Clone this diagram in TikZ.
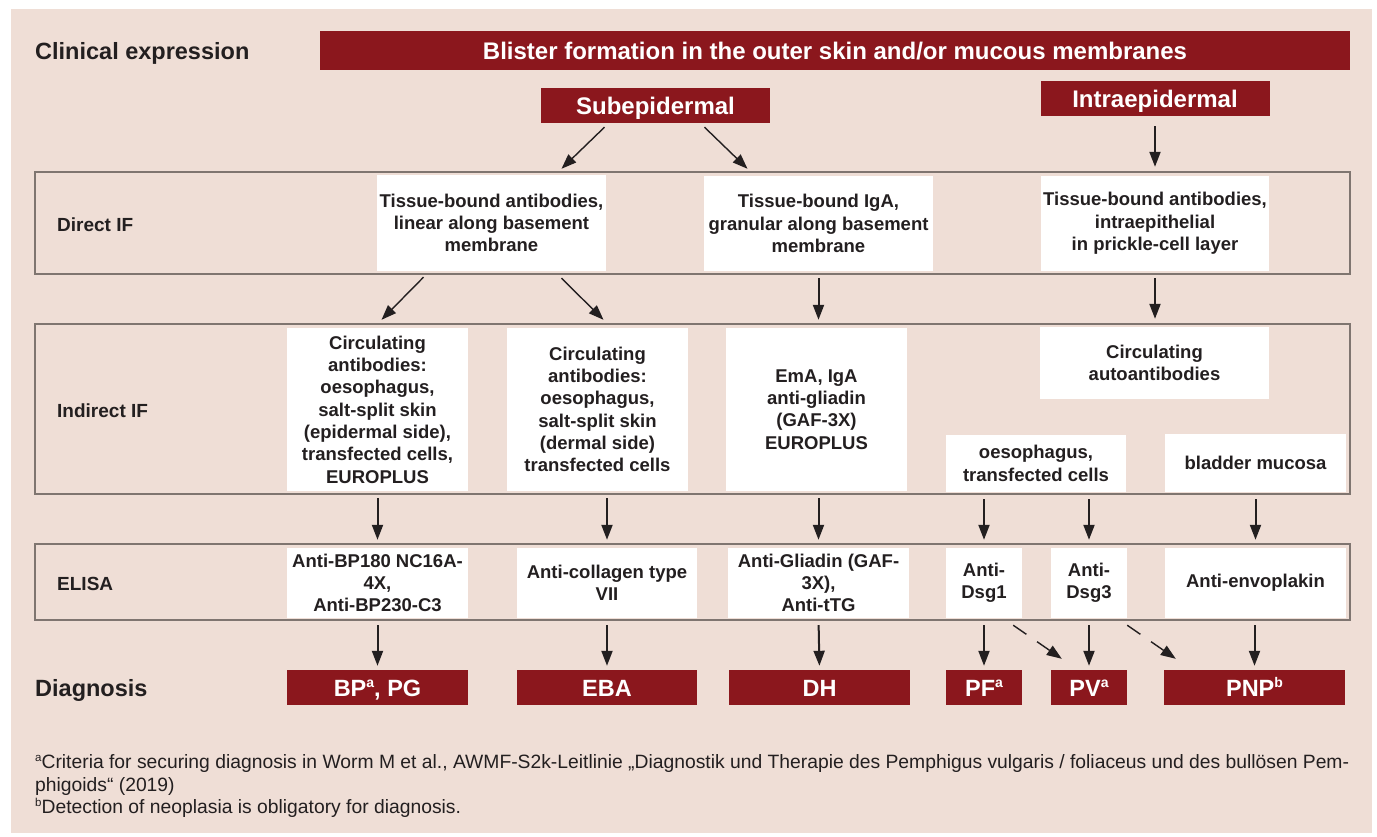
\documentclass[tikz,border=0pt]{standalone}
\usepackage{fontspec}
\setmainfont{Liberation Sans}
\usetikzlibrary{positioning,calc,arrows.meta}

\definecolor{bgpink}{HTML}{EFDED6}
\definecolor{darkred}{HTML}{8B171D}
\definecolor{bandgray}{HTML}{7F7570}
\definecolor{ink}{HTML}{231F20}

\newcommand{\cellfnt}{\fontsize{18.5}{22.3}\selectfont\bfseries}
\newcommand{\labfnt}{\fontsize{19}{22}\selectfont\bfseries}
\newcommand{\titlefnt}{\fontsize{23.5}{26}\selectfont\bfseries}
\newcommand{\headfnt}{\fontsize{24}{26}\selectfont\bfseries}
\newcommand{\diagfnt}{\fontsize{23.5}{26}\selectfont\bfseries}
\newcommand{\notefnt}{\fontsize{19.3}{22}\selectfont}
% small raised index letters
\newcommand{\diagidx}[1]{\raisebox{9pt}{\fontsize{14}{14}\selectfont #1}}
\newcommand{\noteidx}[1]{\raisebox{7pt}{\fontsize{11.5}{12}\selectfont #1}}

\tikzset{
  band/.style={draw=bandgray, line width=1.3pt, minimum width=1315pt, inner sep=0pt},
  cell/.style={fill=white, text=ink, font=\cellfnt, align=center, inner sep=0pt},
  redbox/.style={fill=darkred, text=white, inner sep=0pt, minimum height=35pt,
    text height=17pt, text depth=0pt},
  rowlabel/.style={anchor=base west, text=ink, inner sep=0pt},
  note/.style={anchor=base west, text=ink, font=\notefnt, inner sep=0pt},
  arr/.style={draw=ink, line width=2pt, -{Triangle[length=15pt,width=11pt]}},
  slant arr/.style={draw=ink, line width=1.4pt, -{Triangle[length=15pt,width=11pt]}},
  dash arr/.style={draw=ink, line width=1.4pt, dash pattern=on 16pt off 13pt on 60pt,
    -{Triangle[length=15pt,width=11pt]}},
}

\begin{document}
\begin{tikzpicture}[x=1pt,y=-1pt]
\useasboundingbox (0,0) rectangle (1377,836);
\fill[bgpink] (11,9) rectangle (1372,833);

% bands
\node[band, minimum height=102pt] (bandDir) at (692.5,223) {};
\node[band, minimum height=170pt] (bandInd) at (692.5,409) {};
\node[band, minimum height=76pt]  (bandEli) at (692.5,582) {};

% row labels
\node[rowlabel, font=\titlefnt] (clin) at (35,59) {Clinical expression};
\node[rowlabel, font=\labfnt] (lblDir) at (57,231) {Direct IF};
\node[rowlabel, font=\labfnt] (lblInd) at (57,417) {Indirect IF};
\node[rowlabel, font=\labfnt] (lblEli) at (57,590) {ELISA};
\node[rowlabel, font=\titlefnt] (lblDiag) at (35,696) {Diagnosis};

% clinical expression
\node[redbox, minimum width=1030pt, minimum height=39pt, font=\headfnt] (blister) at (835,50.5)
  {Blister formation in the outer skin and/or mucous membranes};
\node[redbox, minimum width=229pt, font=\headfnt] (sub) at (655.5,105.5) {Subepidermal};
\node[redbox, minimum width=229pt, font=\headfnt] (intra) at (1155,98.5) {Intraepidermal};

% direct IF
\node[cell, minimum width=229pt, minimum height=96pt] (dir1) at (491.5,223)
  {Tissue-bound antibodies,\\linear along basement\\membrane};
\node[cell, minimum width=229pt, minimum height=95pt] (dir2) at (818.5,223.5)
  {Tissue-bound IgA,\\granular along basement\\membrane};
\node[cell, minimum width=228pt, minimum height=95pt] (dir3) at (1155,223.5)
  {Tissue-bound antibodies,\\intraepithelial\\in prickle-cell layer};

% indirect IF
\node[cell, minimum width=181pt, minimum height=163pt] (ind1) at (377.5,409.5)
  {Circulating\\antibodies:\\oesophagus,\\salt-split skin\\(epidermal side),\\transfected cells,\\EUROPLUS};
\node[cell, minimum width=181pt, minimum height=163pt] (ind2) at (597.5,409.5)
  {Circulating\\antibodies:\\oesophagus,\\salt-split skin\\(dermal side)\\transfected cells};
\node[cell, minimum width=181pt, minimum height=163pt] (ind3) at (816.5,409.5)
  {EmA, IgA\\anti-gliadin\\(GAF-3X)\\EUROPLUS};
\node[cell, minimum width=229pt, minimum height=72pt] (ind4) at (1154.5,363)
  {Circulating\\autoantibodies};
\node[cell, minimum width=180pt, minimum height=57pt] (ind5) at (1036,463.5)
  {oesophagus,\\transfected cells};
\node[cell, minimum width=181pt, minimum height=58pt] (ind6) at (1255.5,463)
  {bladder mucosa};

% ELISA
\node[cell, minimum width=181pt, minimum height=70pt] (el1) at (377.5,583)
  {Anti-BP180 NC16A-\\4X,\\Anti-BP230-C3};
\node[cell, minimum width=180pt, minimum height=70pt] (el2) at (607,583)
  {Anti-collagen type\\VII};
\node[cell, minimum width=181pt, minimum height=70pt] (el3) at (818.5,583)
  {Anti-Gliadin (GAF-\\3X),\\Anti-tTG};
\node[cell, minimum width=76pt, minimum height=70pt] (el4) at (984,583) {Anti-\\Dsg1};
\node[cell, minimum width=76pt, minimum height=70pt] (el5) at (1089,583) {Anti-\\Dsg3};
\node[cell, minimum width=181pt, minimum height=70pt] (el6) at (1255.5,583) {Anti-envoplakin};

% diagnosis
\node[redbox, minimum width=181pt, font=\diagfnt] (dg1) at (377.5,687.5) {BP\diagidx{a}, PG};
\node[redbox, minimum width=180pt, font=\diagfnt] (dg2) at (607,687.5) {EBA};
\node[redbox, minimum width=181pt, font=\diagfnt] (dg3) at (819.5,687.5) {DH};
\node[redbox, minimum width=76pt, font=\diagfnt] (dg4) at (984,687.5) {PF\diagidx{a}};
\node[redbox, minimum width=76pt, font=\diagfnt] (dg5) at (1089,687.5) {PV\diagidx{a}};
\node[redbox, minimum width=181pt, font=\diagfnt] (dg6) at (1254.5,687.5) {PNP\diagidx{b}};

% footnotes
\node[note] (noteA) at (35,768) {\noteidx{a}Criteria for securing diagnosis in Worm M et al., AWMF-S2k-Leitlinie „Diagnostik und Therapie des Pemphigus vulgaris / foliaceus und des bullösen Pem-};
\node[note] (noteA2) at (35,791) {phigoids“ (2019)};
\node[note] (noteB) at (35,813) {\noteidx{b}Detection of neoplasia is obligatory for diagnosis.};

% edges
\draw[slant arr] ($(sub.south)+(-51,4)$) -- ($(dir1.north)+(70,-6)$);
\draw[slant arr] ($(sub.south)+(49,4)$) -- ($(dir2.north)+(-71,-7)$);
\draw[arr, shorten <=10pt, shorten >=9pt] (intra.south) -- (intra.south |- dir3.north);

\draw[slant arr] ($(dir1.south)+(-68,6)$) -- ($(ind1.north)+(4,-8)$);
\draw[slant arr] ($(dir1.south)+(70,7)$) -- ($(ind2.north)+(6,-8)$);
\draw[arr, shorten <=7pt, shorten >=8pt] (dir2.south) -- (dir2.south |- ind3.north);
\draw[arr, shorten <=7pt, shorten >=8pt] (dir3.south) -- (dir3.south |- ind4.north);

\draw[arr, shorten <=7pt, shorten >=8pt] (ind1.south) -- (el1.north);
\draw[arr, shorten <=7pt, shorten >=8pt] (ind2.south -| el2.north) -- (el2.north);
\draw[arr, shorten <=7pt, shorten >=8pt] (ind3.south -| el3.north) -- (el3.north);
\draw[arr, shorten <=7pt, shorten >=8pt] (ind5.south -| el4.north) -- (el4.north);
\draw[arr, shorten <=7pt, shorten >=8pt] (ind5.south -| el5.north) -- (el5.north);
\draw[arr, shorten <=7pt, shorten >=8pt] (ind6.south) -- (ind6.south |- el6.north);

\foreach \a/\b in {el1/dg1,el2/dg2,el3/dg3,el4/dg4,el5/dg5}
  \draw[arr, shorten <=7pt, shorten >=4pt] (\a.south) -- (\b.north);
\draw[arr, shorten <=7pt, shorten >=4pt] (el6.south -| dg6.north) -- (dg6.north);

\draw[dash arr] ($(el4.south east)+(-9,7)$) -- ($(dg5.north west)+(11,-11)$);
\draw[dash arr] ($(el5.south east)+(0,7)$) -- ($(dg6.north west)+(12,-11)$);
\end{tikzpicture}
\end{document}
